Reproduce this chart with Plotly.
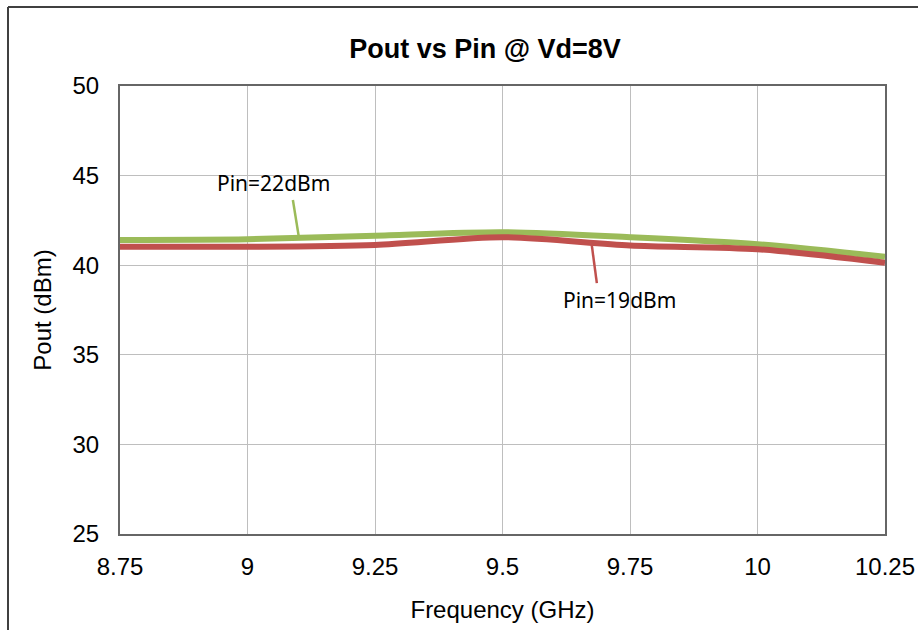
import plotly.graph_objects as go

freq = [8.75, 9.0, 9.25, 9.5, 9.75, 10.0, 10.25]
pout_22 = [41.41, 41.45, 41.65, 41.84, 41.56, 41.17, 40.47]
pout_19 = [41.03, 41.03, 41.13, 41.56, 41.10, 40.89, 40.14]
x_ticks = [8.75, 9.0, 9.25, 9.5, 9.75, 10.0, 10.25]
x_tick_text = ["8.75", "9", "9.25", "9.5", "9.75", "10", "10.25"]
y_ticks = [25, 30, 35, 40, 45, 50]

green = "#9BBB59"
red = "#C0504D"

fig = go.Figure()
fig.add_trace(go.Scatter(x=freq, y=pout_22, mode="lines", name="Pin=22dBm",
                         line=dict(color=green, width=6, shape="spline", smoothing=0.8)))
fig.add_trace(go.Scatter(x=freq, y=pout_19, mode="lines", name="Pin=19dBm",
                         line=dict(color=red, width=6, shape="spline", smoothing=0.8)))

# leader lines for labels
fig.add_shape(type="line", xref="x", yref="y", x0=9.089, y0=43.64, x1=9.101, y1=41.52,
              line=dict(color=green, width=2.5))
fig.add_shape(type="line", xref="x", yref="y", x0=9.685, y0=39.0, x1=9.675, y1=41.13,
              line=dict(color=red, width=2.5))

fig.add_annotation(x=9.05, y=44.59, xref="x", yref="y", text="Pin=22dBm", showarrow=False,
                   font=dict(family="Noto Sans", size=21, color="#000000"))
fig.add_annotation(x=9.73, y=38.06, xref="x", yref="y", text="Pin=19dBm", showarrow=False,
                   font=dict(family="Noto Sans", size=21, color="#000000"))

# outer frame (top and left edges)
fig.add_shape(type="line", xref="paper", yref="paper",
              x0=(8 - 120) / 765, y0=(534 - 7) / 448, x1=(930 - 120) / 765, y1=(534 - 7) / 448,
              line=dict(color="#404040", width=2))
fig.add_shape(type="line", xref="paper", yref="paper",
              x0=(8 - 120) / 765, y0=(534 - 7) / 448, x1=(8 - 120) / 765, y1=(534 - 640) / 448,
              line=dict(color="#404040", width=2))

fig.update_layout(
    width=918, height=630,
    margin=dict(l=120, r=33, t=86, b=96, autoexpand=False),
    paper_bgcolor="white", plot_bgcolor="white",
    showlegend=False,
    title=dict(text="<b>Pout vs Pin @ Vd=8V</b>", x=485 / 918, xref="container", xanchor="center",
               y=1 - 49 / 630, yref="container", yanchor="middle",
               font=dict(family="Liberation Sans", size=27, color="#000000")),
    font=dict(family="Liberation Sans", color="#000000"),
)
fig.update_xaxes(range=[8.75, 10.25], tickvals=x_ticks, ticktext=x_tick_text,
                 showgrid=True, gridcolor="#BEBEBE", gridwidth=1,
                 showline=True, linecolor="#666666", linewidth=2, mirror=True,
                 ticks="", ticklabelstandoff=10, tickfont=dict(size=24),
                 ticklabeloverflow="allow", automargin=False,
                 title=dict(text="Frequency (GHz)", font=dict(size=24), standoff=22),
                 zeroline=False)
fig.update_yaxes(range=[25, 50], tickvals=y_ticks,
                 showgrid=True, gridcolor="#BEBEBE", gridwidth=1,
                 showline=True, linecolor="#666666", linewidth=2, mirror=True,
                 ticks="", ticklabelstandoff=14, tickfont=dict(size=24),
                 automargin=False,
                 title=dict(text="Pout (dBm)", font=dict(size=24), standoff=14),
                 zeroline=False)

fig.write_html("out.html")
